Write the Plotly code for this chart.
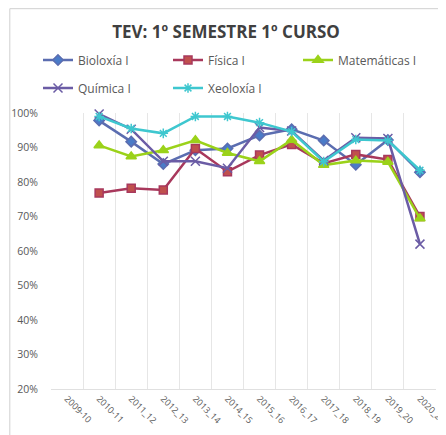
import plotly.graph_objects as go

categories = ["2009-10", "2010-11", "2011_12", "2012_13", "2013_14", "2014_15",
              "2015_16", "2016_17", "2017_18", "2018_19", "2019_20", "2020_21"]
data_years = categories[1:]

bioloxia = [0.978, 0.917, 0.852, 0.892, 0.897, 0.935, 0.953, 0.920, 0.850, 0.922, 0.828]
fisica = [0.768, 0.782, 0.777, 0.897, 0.830, 0.878, 0.909, 0.854, 0.880, 0.865, 0.700]
matematicas = [0.906, 0.874, 0.892, 0.921, 0.884, 0.860, 0.922, 0.849, 0.862, 0.858, 0.694]
quimica = [0.997, 0.953, 0.860, 0.860, 0.840, 0.958, 0.948, 0.862, 0.928, 0.926, 0.620]
xeoloxia = [0.990, 0.955, 0.941, 0.990, 0.990, 0.972, 0.946, 0.859, 0.923, 0.920, 0.834]

W, H = 438, 427  # page adds 8px body margin

# name, values, line colour, marker colour, symbol, size, legend id, legend x(px), legend y(px)
series = [
    ("Bioloxía I", bioloxia, "#5B6DB0", "#4A7BC8", "diamond", 8, "legend", 30, 52),
    ("Física I", fisica, "#A8385C", "#C0504D", "square", 8, "legend2", 160, 52),
    ("Matemáticas I", matematicas, "#9BD21A", "#9BD21A", "triangle-up", 9, "legend3", 290, 52),
    ("Química I", quimica, "#6B5CA5", "#6B5CA5", "x-thin", 9, "legend4", 30, 80),
    ("Xeoloxía I", xeoloxia, "#3EC7CF", "#3E8FD0", "asterisk", 8, "legend5", 160, 80),
]

fig = go.Figure()
legends = {}
for name, vals, lc, mc, sym, sz, lg, lx, ly in series:
    fig.add_trace(go.Scatter(
        x=data_years, y=vals, name=name, mode="lines+markers",
        line=dict(color=lc, width=2.5),
        marker=dict(symbol=sym, size=sz, color=mc, line=dict(color=lc, width=1.5)),
        cliponaxis=False, legend=lg,
    ))
    legends[lg] = dict(orientation="h", xref="container", yref="container",
                       xanchor="left", yanchor="middle",
                       x=lx / W, y=1 - ly / H,
                       font=dict(family="Open Sans", size=12, color="#595959"),
                       itemwidth=30, bgcolor="rgba(0,0,0,0)")

fig.update_layout(
    width=W, height=H,
    margin=dict(l=43, r=10, t=105, b=46, autoexpand=False),
    paper_bgcolor="white", plot_bgcolor="white",
    title=dict(text="<b>TEV: 1º SEMESTRE 1º CURSO</b>", x=218 / W, xanchor="center",
               xref="container", yref="container",
               y=1 - 24 / H, yanchor="middle",
               font=dict(family="Open Sans", size=17, color="#404040")),
    showlegend=True,
    font=dict(family="Open Sans", color="#595959"),
    shapes=[dict(type="rect", xref="paper", yref="paper",
                 x0=-0.107, x1=1.2, y0=-0.3, y1=1.378,
                 line=dict(color="#D0D0D0", width=1), layer="below")],
    **legends,
)
fig.update_xaxes(
    type="category", categoryorder="array", categoryarray=categories,
    range=[-0.5, 11.5], tickson="boundaries", showgrid=True,
    gridcolor="#E6E6E6", gridwidth=1, showline=True, linecolor="#E0E0E0",
    tickangle=45, tickfont=dict(family="Open Sans", size=9, color="#595959"),
    ticks="", zeroline=False,
)
fig.update_yaxes(
    range=[0.2, 1.0], dtick=0.1, tickformat=".0%", showgrid=False,
    showline=False, zeroline=False, ticks="outside", ticklen=10,
    tickcolor="rgba(0,0,0,0)",
    tickfont=dict(family="Open Sans", size=10.5, color="#595959"),
)

fig.write_html("out.html")
